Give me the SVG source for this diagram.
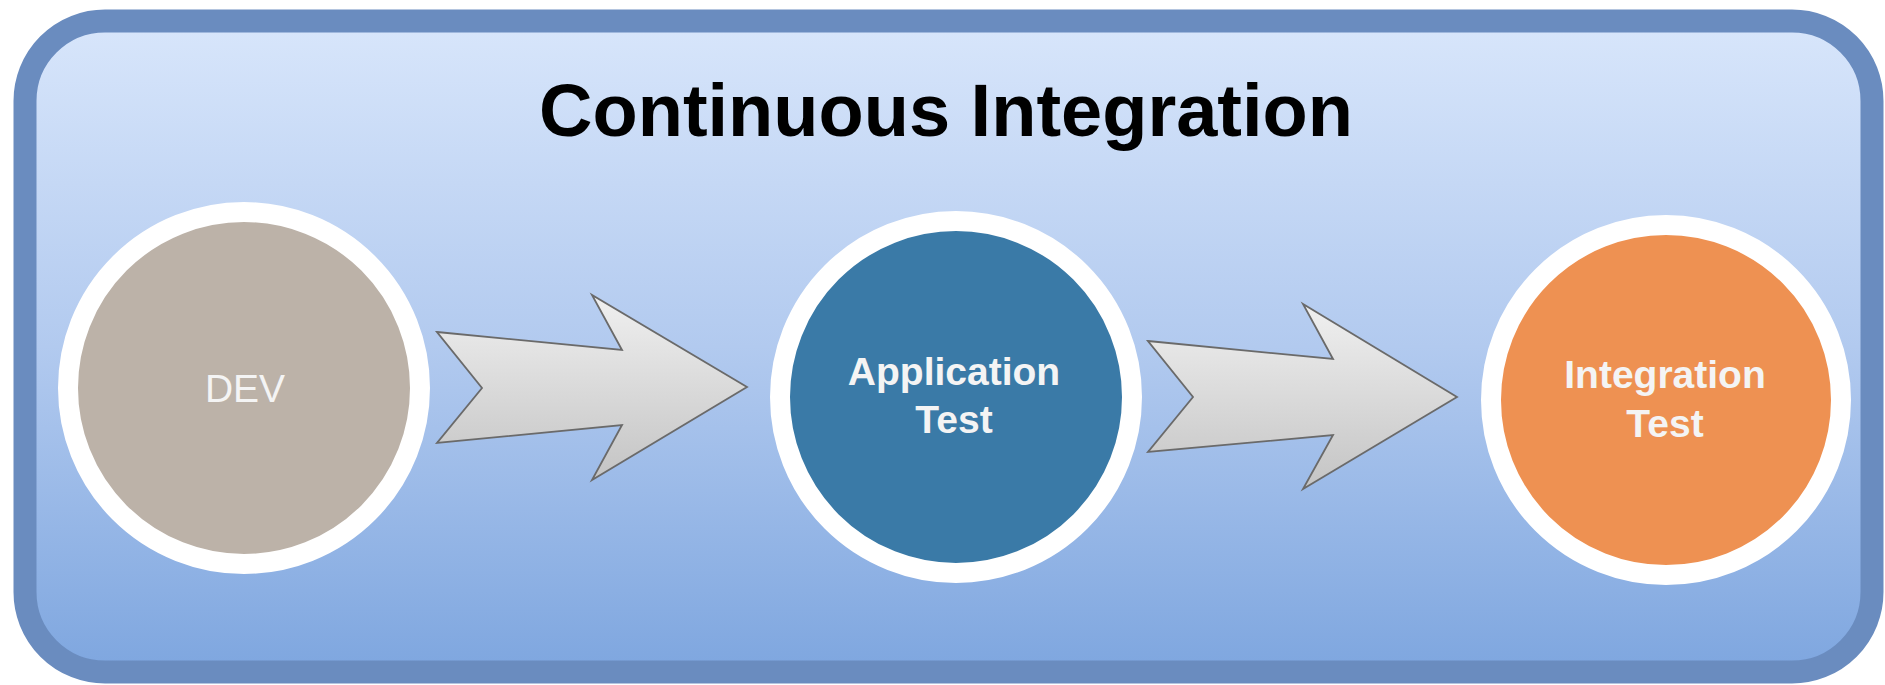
<svg xmlns="http://www.w3.org/2000/svg" width="1885" height="685" viewBox="0 0 1885 685">
  <style>
    .title { font-family: "Liberation Sans", Arial, sans-serif; font-weight: bold; font-size: 74px; fill: #000; }
    .lbl { font-family: "Liberation Sans", Arial, sans-serif; font-weight: bold; font-size: 39px; fill: #f4f4f4; }
    .ring { stroke: #ffffff; stroke-width: 20; }
    .arrow { fill: url(#arrowGrad); stroke: #6a6a6a; stroke-width: 1.8; stroke-linejoin: miter; }
  </style>
  <defs>
    <linearGradient id="bgGrad" x1="0" y1="0" x2="0" y2="1">
      <stop offset="0" stop-color="#d8e6fb"/>
      <stop offset="0.5" stop-color="#b2caef"/>
      <stop offset="1" stop-color="#7ea6df"/>
    </linearGradient>
    <linearGradient id="arrowGrad" x1="0" y1="0" x2="0" y2="1">
      <stop offset="0" stop-color="#f0f0f0"/>
      <stop offset="1" stop-color="#c4c4c4"/>
    </linearGradient>
  </defs>
  <rect width="1885" height="685" fill="#ffffff"/>
  <g id="container">
    <rect x="25" y="21" width="1847" height="651" rx="80" ry="80" fill="url(#bgGrad)" stroke="#6a8cbf" stroke-width="23"/>
    <text class="title" x="946" y="136" text-anchor="middle">Continuous Integration</text>
  </g>
  <g id="connectors">
    <polygon class="arrow" points="437,332 622,350 592,295 747,387 592,480 622,425 437,443 482,388"/>
    <polygon class="arrow" points="1148,341 1333,359 1303,304 1457,397 1303,489 1333,435 1148,452 1193,397"/>
  </g>
  <g id="node-dev">
    <circle class="ring" cx="244" cy="388" r="176" fill="#bcb2a8"/>
    <text class="lbl" x="245" y="402" text-anchor="middle" style="font-weight:normal">DEV</text>
  </g>
  <g id="node-app">
    <circle class="ring" cx="956" cy="397" r="176" fill="#3a7aa7"/>
    <text class="lbl" x="954" y="385" text-anchor="middle">Application</text>
    <text class="lbl" x="954" y="433" text-anchor="middle">Test</text>
  </g>
  <g id="node-int">
    <circle class="ring" cx="1666" cy="400" r="175" fill="#ee9152"/>
    <text class="lbl" x="1665" y="388" text-anchor="middle">Integration</text>
    <text class="lbl" x="1665" y="437" text-anchor="middle">Test</text>
  </g>
</svg>
